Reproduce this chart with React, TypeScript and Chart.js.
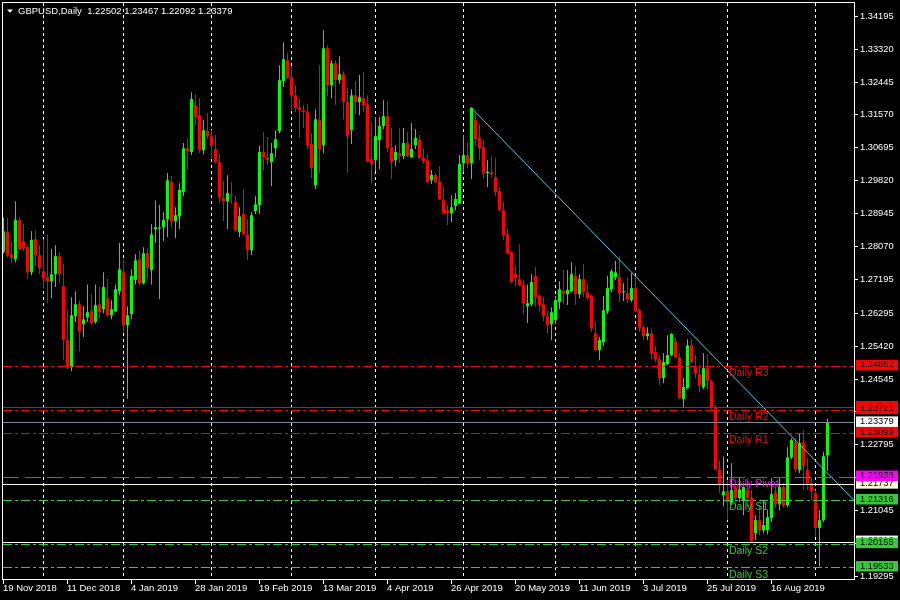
import { useEffect, useRef } from 'react';
import { Chart, registerables } from 'chart.js';

Chart.register(...registerables);

// ---------- data ----------
const chartTitle = 'GBPUSD,Daily';
const titleValues = ['1.22502', '1.23467', '1.22092', '1.23379'];

const dateTickIndex = [0, 16, 32, 48, 64, 80, 96, 112, 128, 144, 160, 176, 192];
const dateTickLabels = [
  '19 Nov 2018', '11 Dec 2018', '4 Jan 2019', '28 Jan 2019', '19 Feb 2019', '13 Mar 2019',
  '4 Apr 2019', '26 Apr 2019', '20 May 2019', '11 Jun 2019', '3 Jul 2019', '25 Jul 2019', '16 Aug 2019',
];
const monthStartIndex = [10, 30, 52, 72, 93, 115, 138, 158, 181, 203];

const priceTicks = [
  1.34195, 1.3332, 1.32445, 1.3157, 1.30695, 1.2982, 1.28945, 1.2807, 1.27195, 1.26295,
  1.2542, 1.24545, 1.2367, 1.22795, 1.2192, 1.21045, 1.2017, 1.19295,
];

const opens = [
  1.2791, 1.2844, 1.2785, 1.2772, 1.2876, 1.2820, 1.2804, 1.2737, 1.2825, 1.2783,
  1.2740, 1.2724, 1.2713, 1.2732, 1.2780, 1.2700, 1.2557, 1.2485, 1.2620, 1.2652,
  1.2599, 1.2617, 1.2634, 1.2605, 1.2652, 1.2639, 1.2668, 1.2623, 1.2634, 1.2687,
  1.2737, 1.2596, 1.2626, 1.2716, 1.2772, 1.2708, 1.2788, 1.2743, 1.2852, 1.2854,
  1.2857, 1.2878, 1.2977, 1.2873, 1.2886, 1.2950, 1.3067, 1.3057, 1.3182, 1.3155,
  1.3062, 1.3113, 1.3099, 1.3065, 1.3030, 1.2934, 1.2926, 1.2942, 1.2924, 1.2844,
  1.2892, 1.2838, 1.2796, 1.2900, 1.2916, 1.3057, 1.3043, 1.3030, 1.3067, 1.3113,
  1.3246, 1.3301, 1.3256, 1.3208, 1.3176, 1.3168, 1.3163, 1.3078, 1.2969, 1.3142,
  1.3075, 1.3333, 1.3235, 1.3293, 1.3248, 1.3264, 1.3190, 1.3115, 1.3208, 1.3190,
  1.3200, 1.3184, 1.3038, 1.3035, 1.3089, 1.3126, 1.3152, 1.3070, 1.3035, 1.3054,
  1.3046, 1.3081, 1.3043, 1.3075, 1.3089, 1.3043, 1.3035, 1.2982, 1.2996, 1.2980,
  1.2929, 1.2902, 1.2894, 1.2913, 1.2921, 1.3027, 1.3049, 1.3027, 1.3142, 1.3094,
  1.3070, 1.3001, 1.3003, 1.2990, 1.2953, 1.2902, 1.2838, 1.2791, 1.2732, 1.2719,
  1.2705, 1.2647, 1.2652, 1.2727, 1.2674, 1.2652, 1.2620, 1.2599, 1.2610, 1.2658,
  1.2687, 1.2679, 1.2687, 1.2727, 1.2679, 1.2719, 1.2684, 1.2674, 1.2575, 1.2530,
  1.2551, 1.2634, 1.2692, 1.2724, 1.2724, 1.2684, 1.2682, 1.2663, 1.2695, 1.2636,
  1.2591, 1.2567, 1.2575, 1.2525, 1.2506, 1.2456, 1.2493, 1.2517, 1.2554, 1.2511,
  1.2400, 1.2429, 1.2543, 1.2487, 1.2466, 1.2432, 1.2482, 1.2448, 1.2376, 1.2213,
  1.2144, 1.2155, 1.2126, 1.2166, 1.2137, 1.2131, 1.2158, 1.2137, 1.2043, 1.2078,
  1.2051, 1.2051, 1.2083, 1.2152, 1.2120, 1.2166, 1.2118, 1.2245, 1.2285, 1.2211,
  1.2285, 1.2211, 1.2176, 1.2150, 1.2057, 1.2078, 1.22502,
];

const highs = [
  1.2883, 1.2883, 1.2820, 1.2926, 1.2883, 1.2865, 1.2809, 1.2846, 1.2849, 1.2809,
  1.2825, 1.2838, 1.2799, 1.2809, 1.2791, 1.2759, 1.2636, 1.2671, 1.2687, 1.2663,
  1.2647, 1.2705, 1.2679, 1.2705, 1.2698, 1.2737, 1.2719, 1.2663, 1.2705, 1.2815,
  1.2772, 1.2647, 1.2745, 1.2785, 1.2796, 1.2804, 1.2801, 1.2865, 1.2929, 1.2916,
  1.2897, 1.3001, 1.2993, 1.2910, 1.2974, 1.3081, 1.3094, 1.3216, 1.3211, 1.3200,
  1.3142, 1.3160, 1.3115, 1.3102, 1.3051, 1.2979, 1.2995, 1.2977, 1.2940, 1.2910,
  1.2958, 1.2878, 1.2897, 1.2940, 1.3073, 1.3110, 1.3097, 1.3081, 1.3115, 1.3288,
  1.3349, 1.3320, 1.3285, 1.3235, 1.3198, 1.3182, 1.3184, 1.3107, 1.3171, 1.3288,
  1.3381, 1.3340, 1.3301, 1.3301, 1.3312, 1.3272, 1.3227, 1.3224, 1.3246, 1.3262,
  1.3270, 1.3208, 1.3136, 1.3150, 1.3150, 1.3195, 1.3192, 1.3121, 1.3075, 1.3121,
  1.3121, 1.3110, 1.3134, 1.3118, 1.3102, 1.3067, 1.3051, 1.3009, 1.3000, 1.3019,
  1.2964, 1.2916, 1.2942, 1.2948, 1.3049, 1.3102, 1.3081, 1.3176, 1.3160, 1.3131,
  1.3089, 1.3035, 1.3046, 1.3041, 1.2964, 1.2924, 1.2852, 1.2793, 1.2756, 1.2812,
  1.2716, 1.2705, 1.2732, 1.2751, 1.2678, 1.2671, 1.2634, 1.2644, 1.2674, 1.2713,
  1.2743, 1.2743, 1.2764, 1.2753, 1.2732, 1.2759, 1.2708, 1.2678, 1.2605, 1.2565,
  1.2674, 1.2727, 1.2745, 1.2767, 1.2780, 1.2708, 1.2724, 1.2735, 1.2724, 1.2640,
  1.2596, 1.2591, 1.2586, 1.2541, 1.2514, 1.2522, 1.2570, 1.2575, 1.2565, 1.2522,
  1.2456, 1.2559, 1.2559, 1.2517, 1.2490, 1.2522, 1.2517, 1.2452, 1.2384, 1.2237,
  1.2248, 1.2184, 1.2229, 1.2179, 1.2192, 1.2171, 1.2190, 1.2158, 1.2091, 1.2118,
  1.2131, 1.2104, 1.2190, 1.2168, 1.2192, 1.2176, 1.2272, 1.2296, 1.2296, 1.2307,
  1.2317, 1.2243, 1.2192, 1.2158, 1.2104, 1.2259, 1.23467,
];

const lows = [
  1.2788, 1.2777, 1.2761, 1.2764, 1.2796, 1.2793, 1.2721, 1.2729, 1.2753, 1.2732,
  1.2695, 1.2655, 1.2668, 1.2698, 1.2708, 1.2503, 1.2479, 1.2474, 1.2605, 1.2527,
  1.2565, 1.2605, 1.2600, 1.2600, 1.2615, 1.2628, 1.2620, 1.2612, 1.2631, 1.2676,
  1.2578, 1.2400, 1.2612, 1.2705, 1.2703, 1.2705, 1.2721, 1.2705, 1.2815, 1.2666,
  1.2820, 1.2831, 1.2854, 1.2828, 1.2852, 1.2940, 1.3009, 1.3049, 1.3128, 1.3054,
  1.3051, 1.3091, 1.3041, 1.3027, 1.2921, 1.2873, 1.2852, 1.2918, 1.2844, 1.2831,
  1.2836, 1.2769, 1.2783, 1.2892, 1.2892, 1.3009, 1.3022, 1.2966, 1.3043, 1.3107,
  1.3230, 1.3251, 1.3168, 1.3163, 1.3094, 1.3121, 1.3065, 1.2988, 1.2958, 1.3001,
  1.3054, 1.3206, 1.3200, 1.3182, 1.3238, 1.3144, 1.3001, 1.3078, 1.3158, 1.3155,
  1.3163, 1.3030, 1.2974, 1.3006, 1.3011, 1.3118, 1.3057, 1.2985, 1.3019, 1.3027,
  1.3038, 1.3044, 1.3041, 1.3065, 1.3038, 1.3025, 1.2974, 1.2972, 1.2974, 1.2929,
  1.2892, 1.2862, 1.2870, 1.2902, 1.2919, 1.3003, 1.3014, 1.2985, 1.3073, 1.3035,
  1.2985, 1.2964, 1.2988, 1.2940, 1.2900, 1.2823, 1.2785, 1.2708, 1.2700, 1.2700,
  1.2626, 1.2602, 1.2647, 1.2647, 1.2634, 1.2607, 1.2575, 1.2557, 1.2599, 1.2639,
  1.2655, 1.2650, 1.2684, 1.2650, 1.2668, 1.2671, 1.2663, 1.2578, 1.2528, 1.2503,
  1.2541, 1.2626, 1.2684, 1.2716, 1.2658, 1.2660, 1.2655, 1.2658, 1.2631, 1.2580,
  1.2557, 1.2557, 1.2506, 1.2498, 1.2437, 1.2442, 1.2490, 1.2514, 1.2509, 1.2400,
  1.2378, 1.2426, 1.2496, 1.2456, 1.2418, 1.2426, 1.2424, 1.2373, 1.2211, 1.2150,
  1.2115, 1.2078, 1.2118, 1.2126, 1.2126, 1.2091, 1.2115, 1.2017, 1.2025, 1.2038,
  1.2043, 1.2040, 1.2073, 1.2110, 1.2104, 1.2112, 1.2112, 1.2240, 1.2205, 1.2203,
  1.2158, 1.2158, 1.2131, 1.2033, 1.1955, 1.2073, 1.22092,
];

const closes = [
  1.2846, 1.2783, 1.2775, 1.2876, 1.2799, 1.2801, 1.2737, 1.2823, 1.2783, 1.2748,
  1.2721, 1.2713, 1.2732, 1.2780, 1.2732, 1.2557, 1.2485, 1.2623, 1.2652, 1.2580,
  1.2612, 1.2631, 1.2602, 1.2650, 1.2631, 1.2698, 1.2623, 1.2639, 1.2692, 1.2745,
  1.2596, 1.2623, 1.2727, 1.2769, 1.2708, 1.2788, 1.2748, 1.2838, 1.2857, 1.2857,
  1.2876, 1.2982, 1.2873, 1.2889, 1.2956, 1.3067, 1.3059, 1.3198, 1.3150, 1.3062,
  1.3115, 1.3099, 1.3073, 1.3030, 1.2937, 1.2926, 1.2948, 1.2940, 1.2849, 1.2886,
  1.2838, 1.2796, 1.2889, 1.2918, 1.3057, 1.3043, 1.3035, 1.3054, 1.3091, 1.3248,
  1.3304, 1.3254, 1.3208, 1.3174, 1.3168, 1.3163, 1.3075, 1.3014, 1.3144, 1.3065,
  1.3333, 1.3235, 1.3293, 1.3248, 1.3264, 1.3190, 1.3099, 1.3208, 1.3190, 1.3203,
  1.3182, 1.3033, 1.3025, 1.3099, 1.3126, 1.3152, 1.3067, 1.3030, 1.3057, 1.3046,
  1.3081, 1.3046, 1.3065, 1.3094, 1.3041, 1.3033, 1.2977, 1.2996, 1.2977, 1.2932,
  1.2894, 1.2894, 1.2910, 1.2932, 1.3025, 1.3049, 1.3027, 1.3174, 1.3091, 1.3067,
  1.3001, 1.3003, 1.2998, 1.2950, 1.2902, 1.2836, 1.2788, 1.2711, 1.2721, 1.2703,
  1.2655, 1.2655, 1.2711, 1.2671, 1.2650, 1.2620, 1.2596, 1.2631, 1.2663, 1.2692,
  1.2679, 1.2690, 1.2732, 1.2679, 1.2719, 1.2684, 1.2668, 1.2588, 1.2530, 1.2557,
  1.2636, 1.2695, 1.2740, 1.2737, 1.2682, 1.2687, 1.2666, 1.2695, 1.2634, 1.2588,
  1.2567, 1.2575, 1.2522, 1.2506, 1.2456, 1.2498, 1.2517, 1.2573, 1.2511, 1.2402,
  1.2432, 1.2543, 1.2498, 1.2469, 1.2437, 1.2482, 1.2448, 1.2378, 1.2213, 1.2171,
  1.2155, 1.2126, 1.2158, 1.2137, 1.2160, 1.2166, 1.2137, 1.2022, 1.2078, 1.2051,
  1.2065, 1.2086, 1.2147, 1.2120, 1.2166, 1.2118, 1.2245, 1.2291, 1.2213, 1.2283,
  1.2221, 1.2176, 1.2155, 1.2057, 1.2078, 1.2248, 1.23379,
];

// trendline anchor points (bar index, price)
const trendX = [117, 212.6];
const trendY = [1.3174, 1.2131];

// pivot levels
const pivotNames = ['Daily R3', 'Daily R2', 'Daily R1', 'Daily Pivot', 'Daily S1', 'Daily S2', 'Daily S3'];
const pivotLevels = [1.24882, 1.23721, 1.23099, 1.21938, 1.21316, 1.20155, 1.19533];
const pivotKinds = ['R', 'R', 'R', 'P', 'S', 'S', 'S'];

// other horizontal lines
const bidPrice = 1.23379;
const redLinePrice = 1.2379;
const whiteLinePrices = [1.21737, 1.2021];

// ---------- styles ----------
const UP = '#00ff00';
const DOWN = '#ff0000';
const TREND = '#3fd2f2';
const RED = '#ff0000';
const GREEN = '#32cd32';
const MAGENTA = '#ff00ff';
const CREAM = '#fff8dc';
const BID = '#778899';
const FONT = "'Liberation Sans', Arial, sans-serif";
const X_MIN = -0.125;
const X_MAX = 212.625;
const Y_MIN = 1.19215;
const Y_MAX = 1.34533;

const kindColor = (k: string) => (k === 'R' ? RED : k === 'S' ? GREEN : MAGENTA);

const mt4Plugin = {
  id: 'mt4',
  beforeDraw(chart: any) {
    const ctx = chart.ctx;
    ctx.save();
    ctx.fillStyle = '#000000';
    ctx.fillRect(0, 0, chart.width, chart.height);
    ctx.restore();
  },
  beforeDatasetsDraw(chart: any) {
    const { ctx, chartArea: a, scales } = chart;
    const xs = scales.x;
    ctx.save();
    ctx.strokeStyle = '#ffffff';
    ctx.lineWidth = 1;
    ctx.setLineDash([3, 3]);
    for (const m of monthStartIndex) {
      const px = Math.floor(xs.getPixelForValue(m)) + 0.5;
      ctx.beginPath();
      ctx.moveTo(px, a.top);
      ctx.lineTo(px, a.bottom);
      ctx.stroke();
    }
    ctx.restore();
  },
  afterDatasetsDraw(chart: any) {
    const { ctx, chartArea: a, scales } = chart;
    const ys = scales.y;
    const hline = (v: number, color: string, dash: number[]) => {
      const py = Math.round(ys.getPixelForValue(v)) + 0.5;
      ctx.save();
      ctx.strokeStyle = color;
      ctx.lineWidth = 1;
      ctx.setLineDash(dash);
      ctx.beginPath();
      ctx.moveTo(a.left, py);
      ctx.lineTo(a.right, py);
      ctx.stroke();
      ctx.restore();
    };
    hline(redLinePrice, RED, []);
    hline(bidPrice, BID, []);
    whiteLinePrices.forEach((v, i) => hline(v, i === 0 ? CREAM : '#ffffff', []));
    pivotLevels.forEach((v, i) => {
      const k = pivotKinds[i];
      hline(v, kindColor(k), k === 'P' ? [16, 6] : [9, 3, 3, 3]);
    });
    // pivot labels
    ctx.save();
    ctx.font = `10.5px ${FONT}`;
    ctx.textBaseline = 'alphabetic';
    ctx.textAlign = 'left';
    pivotLevels.forEach((v, i) => {
      const py = ys.getPixelForValue(v);
      ctx.fillStyle = kindColor(pivotKinds[i]);
      ctx.fillText(pivotNames[i], 729, py + 10.5);
    });
    ctx.restore();
  },
  afterDraw(chart: any) {
    const { ctx, scales } = chart;
    const xs = scales.x;
    const ys = scales.y;
    ctx.save();
    // frame
    ctx.fillStyle = '#ffffff';
    ctx.fillRect(2, 2, 853, 1);
    ctx.fillRect(2, 2, 1, 578);
    ctx.fillRect(854, 2, 1, 578);
    ctx.fillRect(2, 579, 853, 1);

    // price axis
    ctx.font = `9.3px ${FONT}`;
    ctx.textBaseline = 'middle';
    ctx.textAlign = 'left';
    for (const t of priceTicks) {
      const py = Math.round(ys.getPixelForValue(t));
      ctx.fillStyle = '#ffffff';
      ctx.fillRect(855, py, 3, 1);
      ctx.fillText(t.toFixed(5), 860, py + 0.5);
    }

    // price boxes
    const box = (v: number, bg: string, text: string) => {
      const py = ys.getPixelForValue(v);
      ctx.fillStyle = bg;
      ctx.fillRect(856, py - 6, 42, 10.5);
      if (text) {
        ctx.fillStyle = '#000000';
        ctx.fillText(text, 860, py - 1);
      }
    };
    box(pivotLevels[0], RED, pivotLevels[0].toFixed(5));
    box(redLinePrice, RED, redLinePrice.toFixed(5));
    box(pivotLevels[1], RED, pivotLevels[1].toFixed(5));
    box(pivotLevels[2], RED, pivotLevels[2].toFixed(5));
    box(bidPrice, '#ffffff', bidPrice.toFixed(5));
    box(whiteLinePrices[0], CREAM, whiteLinePrices[0].toFixed(5));
    box(pivotLevels[3], MAGENTA, pivotLevels[3].toFixed(5));
    box(pivotLevels[4], GREEN, pivotLevels[4].toFixed(5));
    box(whiteLinePrices[1], '#ffffff', whiteLinePrices[1].toFixed(5));
    box(pivotLevels[5], GREEN, pivotLevels[5].toFixed(5));
    box(pivotLevels[6], GREEN, pivotLevels[6].toFixed(5));

    // date axis
    ctx.font = `9.5px ${FONT}`;
    ctx.textBaseline = 'alphabetic';
    ctx.fillStyle = '#ffffff';
    dateTickIndex.forEach((idx, i) => {
      const px = xs.getPixelForValue(idx);
      ctx.fillRect(Math.floor(px), 580, 1, 4);
      ctx.fillText(dateTickLabels[i], px - 0.5, 591);
    });

    // title
    ctx.beginPath();
    ctx.moveTo(7, 9.5);
    ctx.lineTo(13, 9.5);
    ctx.lineTo(10, 12.8);
    ctx.closePath();
    ctx.fill();
    ctx.fillText(`${chartTitle}  ${titleValues.join(' ')}`, 18, 14);
    ctx.restore();
  },
};

export default function App() {
  const ref = useRef<HTMLCanvasElement>(null);
  useEffect(() => {
    const canvas = ref.current;
    if (!canvas) return;
    const idx = opens.map((_, i) => i);
    const colors = idx.map((i) => (closes[i] >= opens[i] ? UP : DOWN));
    const bodies = idx.map((i) => ({ x: i, y: [opens[i], closes[i]] }));
    const wicks = idx.map((i) => ({ x: i, y: [lows[i], highs[i]] }));
    const trend = trendX.map((x, i) => ({ x, y: trendY[i] }));
    const chart = new Chart(canvas, {
      type: 'bar',
      data: {
        datasets: [
          {
            type: 'line',
            data: trend,
            borderColor: TREND,
            borderWidth: 1,
            pointRadius: 0,
            fill: false,
            tension: 0,
          } as any,
          {
            type: 'bar',
            data: bodies,
            backgroundColor: colors,
            barThickness: 3,
            grouped: false,
            minBarLength: 1,
            inflateAmount: 0,
            borderWidth: 0,
          } as any,
          {
            type: 'bar',
            data: wicks,
            backgroundColor: colors,
            barThickness: 1,
            grouped: false,
            inflateAmount: 0,
            borderWidth: 0,
          } as any,
        ],
      },
      options: {
        animation: false,
        responsive: false,
        events: [],
        layout: { padding: { left: 3, top: 3, right: 46, bottom: 21 } },
        scales: {
          x: { type: 'linear', display: false, min: X_MIN, max: X_MAX, offset: false },
          y: { type: 'linear', display: false, min: Y_MIN, max: Y_MAX, beginAtZero: false },
        },
        plugins: { legend: { display: false }, tooltip: { enabled: false } },
      } as any,
      plugins: [mt4Plugin],
    });
    return () => chart.destroy();
  }, []);
  return (
    <div style={{ position: 'fixed', left: 0, top: 0, width: 900, height: 600, background: '#000' }}>
      <canvas ref={ref} width={900} height={600} style={{ display: 'block' }} />
    </div>
  );
}
